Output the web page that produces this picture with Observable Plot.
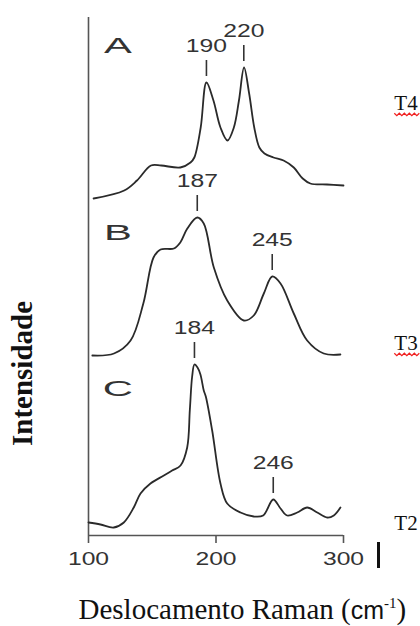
<!DOCTYPE html>
<html><head><meta charset="utf-8">
<script src="https://cdn.jsdelivr.net/npm/d3@7"></script>
<script src="https://cdn.jsdelivr.net/npm/@observablehq/plot@0.6"></script>
<style>
body{margin:0;background:#fff}
</style></head><body><div id="chart"></div>
<script>
// ---- data ----
const spectra = ["A", "B", "C"];
const samples = ["T4", "T3", "T2"];
const baselines = [337, 180, 11]; // vertical stacking offsets of A, B, C (intensity units)

const xA = [104,128,138,149,157,172,180,183,188,192.5,198,203.5,209,214,218,222,226,230,234,238,245,253,261,268,274,287,300];
const intensityA = [0,8,18,33,33,31,36,41,71,116,98,71,58,71,98,131,105,71,51,45,41,38,31,20,15,14,13];

const xB = [103,120,133,143,151,156.5,167,172,177.5,185.3,190.4,198.3,208.8,221.8,229.6,237.5,244.1,250.6,261,271.5,284.5,297.6];
const intensityB = [0,2,15,52,98,106,107,113,127,138,132,88,55,35,40,62,79,72,42,15,2,1];

const xC = [100,109.4,119.8,127.7,135.5,140.8,148.6,159.1,165.6,172.2,177.4,179.5,181.3,183.1,185.5,187.8,190.4,192,197,203.5,208.8,219.2,229.6,237,244.9,250.6,255.8,263.7,271.5,279.4,287.2,292.4,297.6];
const intensityC = [2,0,-3,2,17,31,41,49,54,59,77,115,148,160,157,150,134,128,94,41,21,12,8,9,25,16,9,12,17,12,7,9,17];

const peakSpectrum = ["A","A","B","B","C","C"];
const peakLabel = ["190","220","187","245","184","246"];
const peakPosition = [192.5,221.8,185.3,244.1,183.1,244.9];

const xTicks = [100, 200, 300];

// ---- layout (annotation placement) ----
const letterX = 123;
const letterY = [490, 303, 147];
const sampleX = 349;
const sampleY = [432, 192, 12];

// ---- build tables ----
const series = {A: [xA, intensityA], B: [xB, intensityB], C: [xC, intensityC]};
const rows = [];
spectra.forEach((s, k) => {
  const [xs, ys] = series[s];
  xs.forEach((x, i) => rows.push({spectrum: s, x, y: ys[i] + baselines[k]}));
});
const peaks = peakLabel.map((label, i) => {
  const s = peakSpectrum[i], k = spectra.indexOf(s);
  const [xs, ys] = series[s];
  let top = -Infinity;
  xs.forEach((x, j) => { if (Math.abs(x - peakPosition[i]) <= 3) top = Math.max(top, ys[j]); });
  return {label, x: peakPosition[i], top: top + baselines[k]};
});
const letters = spectra.map((s, k) => ({s, x: letterX, y: letterY[k]}));
const sampleRows = samples.map((s, k) => ({s, x: sampleX, y: sampleY[k]}));

const plot = Plot.plot({
  width: 420,
  height: 626,
  marginLeft: 88,
  marginRight: 77,
  marginTop: 17,
  marginBottom: 91,
  x: {domain: [100, 300]},
  y: {domain: [0, 518], axis: null},
  style: {background: "#fff"},
  marks: [
    Plot.ruleX([100], {stroke: "#555", strokeWidth: 1.6}),
    Plot.ruleY([0], {x1: 100, x2: 300, stroke: "#555", strokeWidth: 1.6}),
    Plot.axisX({ticks: xTicks, tickSize: 8, tickPadding: 8, label: null, stroke: "#555", strokeWidth: 1.6,
      fontSize: 19, fontFamily: "Liberation Sans", fill: "#333"}),
    Plot.ruleX([300], {dx: 35, y1: -7, y2: -33, stroke: "#111", strokeWidth: 3}),
    Plot.line(rows, {x: "x", y: "y", z: "spectrum", curve: "catmull-rom", stroke: "#2a2a2a", strokeWidth: 1.8}),
    Plot.ruleX(peaks, {x: "x", y1: d => d.top + 6, y2: d => d.top + 22, stroke: "#333", strokeWidth: 1.6}),
    Plot.text(peaks, {x: "x", y: d => d.top + 37, text: "label", fontSize: 19, fontFamily: "Liberation Sans",
      fill: "#333", lineAnchor: "middle"}),
    Plot.text(letters, {x: "x", y: "y", text: "s", fontSize: 22, fontFamily: "Liberation Sans",
      fill: "#333", lineAnchor: "middle"}),
    Plot.text(sampleRows, {x: "x", y: "y", text: "s", fontSize: 21, fontFamily: "Liberation Serif",
      fill: "#111", lineAnchor: "middle"}),
    Plot.text(["Intensidade"], {frameAnchor: "left", dx: -66, dy: 97, rotate: -90, fontSize: 29,
      fontWeight: "bold", fontFamily: "Liberation Serif", fill: "#111", textAnchor: "middle", lineAnchor: "middle"}),
    Plot.text(["Deslocamento Raman (cm-1)"], {frameAnchor: "bottom-left", dx: -10, dy: 74, fontSize: 29,
      fontFamily: "Liberation Serif", fill: "#111", textAnchor: "start", lineAnchor: "middle"})
  ]
});

document.getElementById("chart").append(plot);

const textGroups = d3.select(plot).selectAll('g[aria-label="text"]').nodes();
const [gPeaks, gLetters, gSamples, gYTitle, gXTitle] = textGroups;

function stretch(g, s) {
  d3.select(g).selectAll("text").each(function () {
    const t = this.getAttribute("transform") || "";
    this.setAttribute("transform", t + ` scale(${s},1)`);
  });
}
// x title with sans "cm" and superscript
d3.select(gXTitle).selectAll("text").each(function () {
  const t = d3.select(this).text("");
  t.append("tspan").text("Deslocamento Raman (");
  t.append("tspan").attr("font-family", "Liberation Sans").attr("font-size", 25).text("cm");
  t.append("tspan").attr("font-size", 15).attr("dy", -11).text("-1");
  t.append("tspan").attr("dy", 11).text(")");
});

// spell-check squiggles under T4 and T3
d3.select(gSamples).selectAll("text").each(function () {
  const txt = this.textContent;
  if (txt !== "T4" && txt !== "T3") return;
  const b = this.getBBox();
  const y0 = b.y + b.height - 2;
  let d = `M${b.x},${y0}`;
  for (let x = b.x, k = 0; x < b.x + b.width; x += 2.5, k++) d += `L${x + 2.5},${y0 + (k % 2 ? 0 : 2.5)}`;
  d3.select(gSamples).append("path").attr("d", d).attr("fill", "none").attr("stroke", "#f02020")
    .attr("stroke-width", 1.2).attr("transform", this.getAttribute("transform"));
});

stretch(d3.select(plot).select('g[aria-label="x-axis tick label"]').node(), 1.3);
stretch(gPeaks, 1.3);
stretch(gLetters, 1.9);
</script></body></html>
